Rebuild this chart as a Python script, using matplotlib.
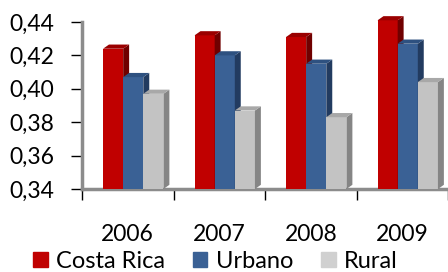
import matplotlib
matplotlib.use("Agg")
import matplotlib.pyplot as plt
from matplotlib.patches import Polygon, Patch
import numpy as np

years = ["2006", "2007", "2008", "2009"]
series = ["Costa Rica", "Urbano", "Rural"]
costa_rica = [0.424, 0.432, 0.431, 0.441]
urbano = [0.407, 0.420, 0.415, 0.427]
rural = [0.397, 0.387, 0.383, 0.404]
y_ticks = [0.34, 0.36, 0.38, 0.40, 0.42, 0.44]
y_labels = ["0,34", "0,36", "0,38", "0,40", "0,42", "0,44"]

front = ["#C00000", "#3A6195", "#C3C3C3"]
side = ["#700000", "#223B60", "#858585"]
top = ["#9A0000", "#2E5180", "#A8A8A8"]

plt.rcParams["font.family"] = ["Lato", "DejaVu Sans"]

fig = plt.figure(figsize=(4.48, 2.72), dpi=100)
ax = fig.add_axes([82 / 448, 1 - 189 / 272, 1 - 82 / 448, (189 - 22) / 272])

x = np.arange(len(years))
w = 0.22
offsets = [-0.16, 0.06, 0.28]
dx, dy = 0.065, 0.0025
base = 0.34

for k, vals in enumerate([costa_rica, urbano, rural]):
    xs = x + offsets[k]
    ax.bar(xs, np.array(vals) - base, w, bottom=base, color=front[k], zorder=3 + k, clip_on=False)
    for xc, v in zip(xs, vals):
        l, r = xc - w / 2, xc + w / 2
        ax.add_patch(Polygon([(r, base), (r + dx, base + dy), (r + dx, v + dy), (r, v)],
                             closed=True, color=side[k], zorder=3 + k, lw=0, clip_on=False))
        ax.add_patch(Polygon([(l, v), (l + dx, v + dy), (r + dx, v + dy), (r, v)],
                             closed=True, color=top[k], zorder=3 + k, lw=0, clip_on=False))

ax.set_ylim(0.34, 0.44)
ax.set_xlim(-0.5, (448 - 82) / 92 - 0.5)
ax.set_yticks(y_ticks)
ax.set_yticklabels(y_labels)
ax.set_xticks(np.arange(len(years) + 1) - 0.5)
ax.set_xticklabels([])
ax.set_xticks(x, minor=True)
ax.set_xticklabels(years, minor=True)
ax.tick_params(axis="x", which="minor", length=0, pad=25, labelsize=16.5)
ax.tick_params(axis="x", which="major", length=8, width=1, color="black")
ax.tick_params(axis="y", length=8, width=1, color="black", pad=12, labelsize=16.5)

for s in ["top", "right"]:
    ax.spines[s].set_visible(False)
for s in ["left", "bottom"]:
    ax.spines[s].set_color("#8C8C8C")
    ax.spines[s].set_linewidth(2.5)

handles = [Patch(color=c) for c in front]
handles[2] = Patch(color="#D0D0D0")
fig.legend(handles, series, loc="lower left", bbox_to_anchor=(24 / 448, -0.035), ncol=3,
           frameon=False, fontsize=17, handlelength=0.6, handleheight=0.6,
           handletextpad=0.35, columnspacing=1.2, borderaxespad=0)

fig.savefig("out.png", dpi=100)
